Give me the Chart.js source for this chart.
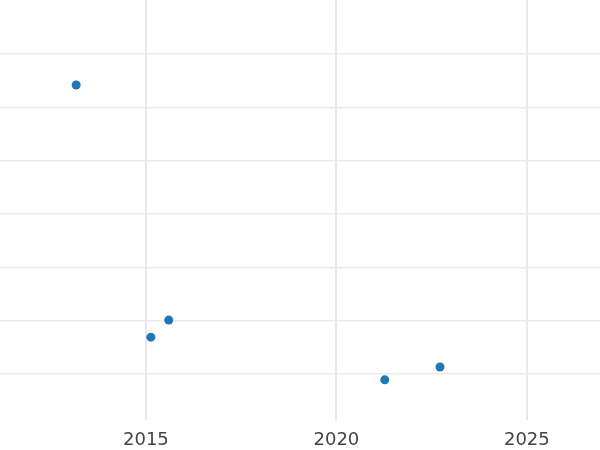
<!DOCTYPE html>
<html>
<head>
<meta charset="utf-8">
<script src="https://cdn.jsdelivr.net/npm/chart.js@4/dist/chart.umd.min.js"></script>
<style>
  html, body { margin: 0; padding: 0; background: #fff; }
  #wrap { width: 600px; height: 450px; position: relative; }
</style>
</head>
<body>
<div id="wrap"><canvas id="chart"></canvas></div>
<script>
const years = [2013.17, 2015.13, 2015.6, 2021.27, 2022.72];
const values = [5.42, 0.69, 1.01, -0.11, 0.13];
const xTicks = [2015, 2020, 2025];
const yTicks = [0, 1, 2, 3, 4, 5, 6];

const points = years.map((x, i) => ({ x: x, y: values[i] }));

const ctx = document.getElementById('chart').getContext('2d');
new Chart(ctx, {
  type: 'scatter',
  data: {
    datasets: [{
      data: points,
      backgroundColor: '#1f77b4',
      borderColor: '#1f77b4',
      pointRadius: 4.5,
      pointHoverRadius: 4.5,
      borderWidth: 0
    }]
  },
  options: {
    responsive: true,
    maintainAspectRatio: false,
    animation: false,
    layout: { padding: 0, autoPadding: false },
    plugins: {
      legend: { display: false },
      tooltip: { enabled: false }
    },
    scales: {
      x: {
        type: 'linear',
        min: 2011.17,
        max: 2026.92,
        afterBuildTicks: axis => { axis.ticks = xTicks.map(v => ({ value: v })); },
        afterFit: axis => { axis.height = 30; },
        grid: { color: '#e9e9e9', lineWidth: 2, drawTicks: false },
        border: { display: false },
        ticks: {
          color: '#444',
          padding: 10,
          maxRotation: 0,
          font: { family: 'DejaVu Sans', size: 18 },
          callback: v => String(v)
        }
      },
      y: {
        type: 'linear',
        min: -0.863,
        max: 7.013,
        afterBuildTicks: axis => { axis.ticks = yTicks.map(v => ({ value: v })); },
        grid: { color: '#ebebeb', lineWidth: 1.5, drawTicks: false },
        border: { display: false },
        ticks: { display: false }
      }
    }
  }
});
</script>
</body>
</html>
